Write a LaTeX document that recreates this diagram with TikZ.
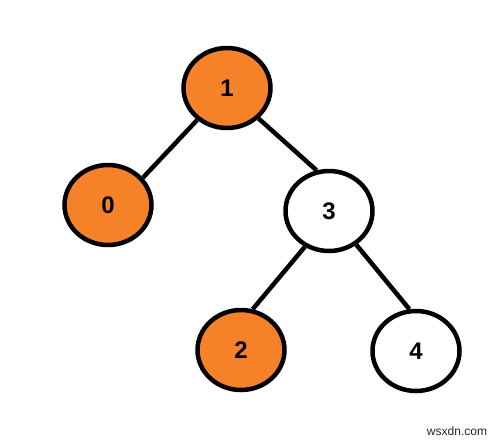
\documentclass[tikz,border=0pt]{standalone}
\usepackage{fontspec}
\setmainfont{Liberation Sans}
\usetikzlibrary{shapes.geometric}
\definecolor{nodeorange}{RGB}{245,130,40}
\begin{document}
\begin{tikzpicture}[x=1pt,y=-1pt,
  treenode/.style={ellipse,draw=black,line width=4.5pt,minimum width=87pt,minimum height=80pt,inner sep=0pt,font=\fontsize{24}{26}\selectfont\bfseries},
  filled/.style={treenode,fill=nodeorange},
  plain/.style={treenode,fill=white},
  edge/.style={line width=4.5pt,black}]
\useasboundingbox (0,0) rectangle (500,440);
\fill[white] (0,0) rectangle (500,440);
\node[filled] (n1) at (227,88) {1};
\node[filled] (n0) at (108,205) {0};
\node[plain] (n3) at (329,211) {3};
\node[filled] (n2) at (241,350) {2};
\node[plain] (n4) at (416,351) {4};
\draw[edge] (n1.227) -- (n0.38);
\draw[edge] (n1.316) -- (n3.107);
\draw[edge] (n3.236) -- (n2.74);
\draw[edge] (n3.309) -- (n4.99);
\node[font=\fontsize{12}{14}\selectfont,text=black!85] (wm) at (457,431) {wsxdn.com};
\end{tikzpicture}
\end{document}
